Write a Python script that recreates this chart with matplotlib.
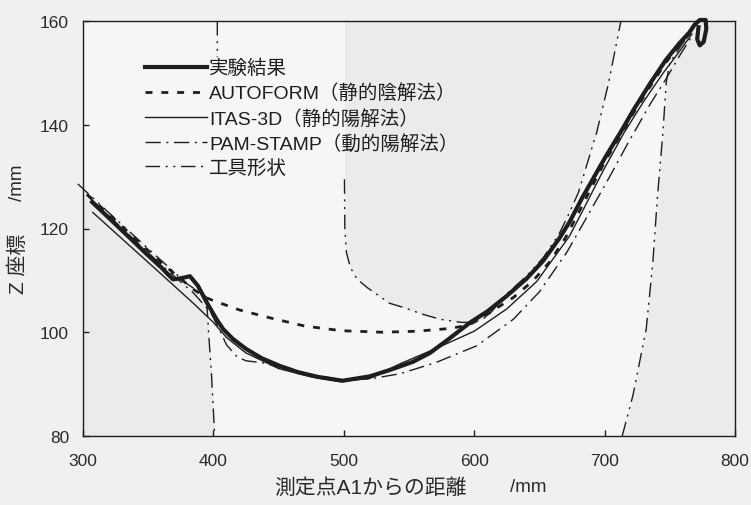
import numpy as np
import matplotlib
matplotlib.use("Agg")
import matplotlib.pyplot as plt

plt.rcParams['font.family'] = ['Liberation Sans', 'Noto Sans CJK JP', 'DejaVu Sans']

# ---------------- data ----------------
exp_x = [307, 320, 335, 350, 360, 365, 369, 375, 382, 388, 394.8, 402.4, 407.5, 415, 425, 437,
         451, 465, 480, 499, 520, 535, 553, 566, 580, 597, 610, 625, 640, 653, 665, 673, 683,
         700, 714, 722, 735, 747, 757, 765, 769, 773, 777.5, 778, 776, 773, 771, 772]
exp_y = [125.1, 122.0, 118.4, 114.8, 112.5, 111.2, 110.2, 110.4, 110.8, 109.0, 105.8, 102.5,
         100.6, 98.7, 96.8, 95.0, 93.5, 92.3, 91.4, 90.65, 91.5, 92.7, 94.3, 96.0, 98.6, 101.9,
         104.0, 107.0, 110.3, 113.8, 118.0, 121.2, 126.0, 133.5, 139.3, 142.8, 148.0, 152.5,
         155.6, 157.8, 159.3, 160.2, 160.2, 158.5, 156.0, 155.3, 156.5, 158.8]

af_x = [303, 330, 360, 385, 395, 401, 420, 443, 470, 498, 530, 556, 580, 595, 605, 615, 630,
        645, 658, 670, 683, 700, 714, 722, 735, 747, 757, 766]
af_y = [126.6, 120.4, 113.4, 108.2, 106.6, 106.0, 104.3, 102.8, 101.2, 100.3, 100.0, 100.2,
        100.7, 101.3, 102.6, 104.3, 106.7, 109.9, 113.6, 118.2, 124.5, 132.8, 138.7, 142.2,
        147.4, 152.0, 155.2, 157.8]

itas_x = [307.5, 330, 360, 385, 400, 410, 425, 450, 475, 497, 520, 543, 570, 600, 625, 648,
          673, 685, 699, 715, 730, 745, 757, 767]
itas_y = [123.1, 118.0, 111.2, 105.5, 101.9, 99.0, 96.0, 93.0, 91.4, 90.5, 91.1, 93.9, 96.8,
          100.2, 104.5, 109.8, 118.5, 124.3, 131.2, 138.5, 144.5, 150.0, 154.0, 157.5]

pam_x = [303, 330, 360, 385, 398, 405, 410, 418, 425, 438, 452, 470, 497, 520, 543, 570, 602,
         630, 650, 671, 690, 705, 718, 735, 747, 758, 768]
pam_y = [126.4, 120.0, 113.0, 107.5, 103.8, 100.3, 97.6, 95.3, 94.5, 94.1, 93.2, 92.0, 90.9,
         91.0, 92.0, 94.1, 97.4, 102.5, 107.8, 115.4, 123.8, 130.5, 136.5, 144.0, 148.8, 153.5,
         157.5]

# tool shape: left die, punch, right die
tool_l_x = [296, 320, 350, 380, 394.7, 396.3, 398.5, 401]
tool_l_y = [128.6, 123.0, 116.1, 109.3, 106.8, 100.0, 92.0, 80.0]

tool_u_x = [403, 403, np.nan, 500.5, 500.8, 502, 505, 510, 518, 535, 548, 560, 574, 590, 600,
            610, 625, 640, 653, 665, 673, 680, 694, 703, 712.5]
tool_u_y = [160, 153, np.nan, 129.5, 120.0, 115.4, 112.5, 110.3, 108.6, 105.6, 104.6, 103.5,
            102.5, 101.9, 101.9, 103.0, 107.4, 110.8, 114.4, 118.9, 123.0, 127.0, 138.6, 148.0,
            160.0]

tool_r_x = [713.5, 721.7, 731.9, 737, 740.5, 744.7, 747.3, 750, 758, 766, 772]
tool_r_y = [80.0, 87.8, 100.6, 113.5, 126.0, 138.5, 148.2, 152.0, 155.0, 157.8, 160.0]

labels = ['実験結果', 'AUTOFORM（静的陰解法）', 'ITAS-3D（静的陽解法）',
          'PAM-STAMP（動的陽解法）', '工具形状']
x_ticks = [300, 400, 500, 600, 700, 800]
y_ticks = [80, 100, 120, 140, 160]
x_label, y_label, unit = '測定点A1からの距離', 'Z 座標', '/mm'

# ---------------- figure ----------------
W, H = 751, 506
fig = plt.figure(figsize=(W / 100, H / 100), dpi=100, facecolor='#f0f0f0')
ax = fig.add_axes([83 / W, 1 - 437 / H, (735 - 83) / W, (437 - 22) / H])
ax.set_facecolor('#f6f6f6')

ax.set_xlim(300, 800)
ax.set_ylim(80, 160)

shade = '#ebebeb'
ax.fill_between(tool_l_x, tool_l_y, 80, color=shade, lw=0, zorder=0)
ux = np.array(tool_u_x[3:]); uy = np.array(tool_u_y[3:])
ax.fill_between(ux, uy, 160, color=shade, lw=0, zorder=0)
ax.fill_betweenx(tool_r_y, tool_r_x, 800, color=shade, lw=0, zorder=0)

ink = '#1e1e1e'
tool_style = (0, (10.5, 4, 1.5, 4, 1.5, 4))
pam_style = (0, (11, 4, 1.5, 4))
af_style = (0, (2.5, 3.2))

ax.plot(tool_l_x, tool_l_y, color=ink, lw=1.0, ls=tool_style, zorder=2, clip_on=False)
ax.plot(tool_u_x, tool_u_y, color=ink, lw=1.0, ls=tool_style, zorder=2)
ax.plot(tool_r_x, tool_r_y, color=ink, lw=1.0, ls=tool_style, zorder=2)

l_pam, = ax.plot(pam_x, pam_y, color=ink, lw=1.0, ls=pam_style, zorder=3)
l_itas, = ax.plot(itas_x, itas_y, color=ink, lw=1.0, ls='-', zorder=3)
l_af, = ax.plot(af_x, af_y, color=ink, lw=2.0, ls=af_style, zorder=4)
l_exp, = ax.plot(exp_x, exp_y, color=ink, lw=3.0, ls='-', zorder=5, clip_on=False,
                 solid_joinstyle='round')
l_tool, = ax.plot([], [], color=ink, lw=1.0, ls=tool_style)

leg = ax.legend([l_exp, l_af, l_itas, l_pam, l_tool], labels,
                loc='upper left', bbox_to_anchor=((145 - 83) / 652, (437 - 60) / 415),
                frameon=False, fontsize=14, handlelength=3.2, handletextpad=0.1,
                labelspacing=0.32, borderpad=0.0, borderaxespad=0.0)
for t in leg.get_texts():
    t.set_color(ink)
leg.set_zorder(6)

ax.set_xticks(x_ticks)
ax.set_yticks(y_ticks)
ax.tick_params(axis='both', direction='in', length=4, width=1.0, colors=ink,
               labelsize=12.5, labelcolor='#2a2a2a')
ax.tick_params(axis='x', pad=12)
ax.tick_params(axis='y', pad=10)
for s in ax.spines.values():
    s.set_color(ink)
    s.set_linewidth(1.0)

tc = '#2a2a2a'
fig.text(370.5 / W, 1 - 488 / H, x_label, ha='center', va='center', fontsize=15, color=tc)
fig.text(528.5 / W, 1 - 488 / H, unit, ha='center', va='center', fontsize=13.5, color=tc)
fig.text(18 / W, 1 - 263.5 / H, y_label, ha='center', va='center', rotation=90,
         fontsize=15, color=tc)
fig.text(18 / W, 1 - 183 / H, unit, ha='center', va='center', rotation=90,
         fontsize=13.5, color=tc)

fig.savefig('out.png', dpi=100, facecolor=fig.get_facecolor())
